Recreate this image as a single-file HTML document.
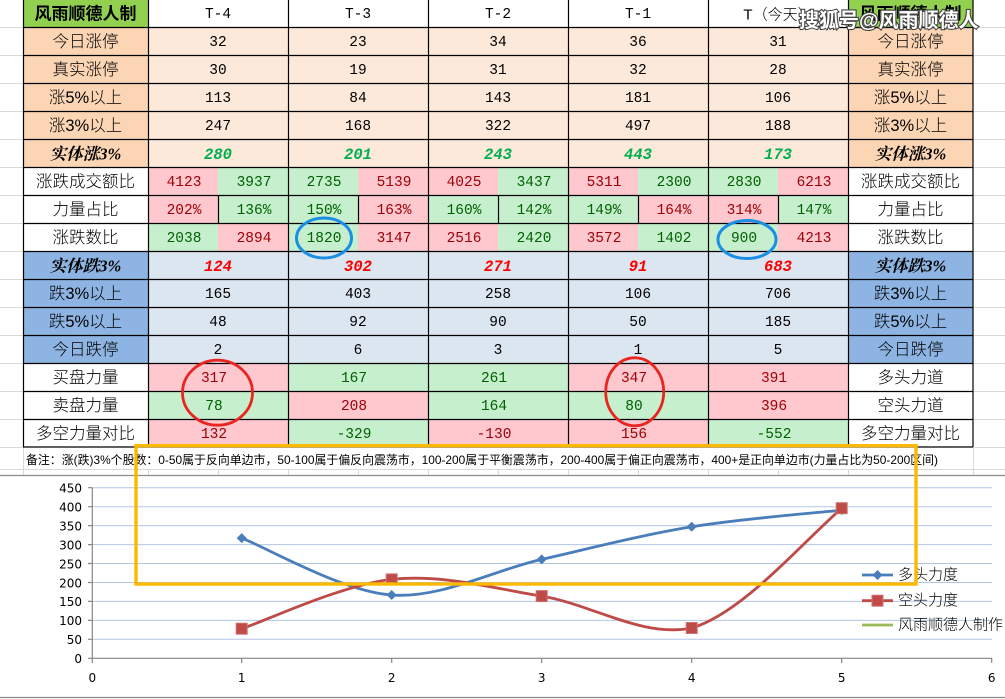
<!DOCTYPE html>
<html><head><meta charset="utf-8">
<style>
html,body{margin:0;padding:0;background:#fff;}
svg{display:block;}
.l{font-family:"Liberation Sans","Noto Sans CJK SC",sans-serif;font-size:16.5px;font-weight:300;fill:#000;}
.lb{font-family:"Liberation Serif","Noto Serif CJK SC",serif;font-size:16.5px;font-weight:bold;font-style:italic;fill:#000;}
.n{font-family:"Liberation Mono",monospace;font-size:14.5px;fill:#000;}
.r{fill:#9c0006;}
.g{fill:#006100;}
.bg{font-family:"Liberation Mono",monospace;font-size:15.5px;font-weight:bold;font-style:italic;fill:#00b050;}
.br{font-family:"Liberation Mono",monospace;font-size:15.5px;font-weight:bold;font-style:italic;fill:#ff0000;}
.ax{font-family:"DejaVu Sans",sans-serif;font-size:12px;fill:#000;}
.lg{font-family:"Liberation Sans","Noto Sans CJK SC",sans-serif;font-size:15px;font-weight:300;fill:#000;}
.fn{font-family:"Liberation Sans","Noto Sans CJK SC",sans-serif;font-size:12px;fill:#000;}
text{dominant-baseline:central;}
</style></head>
<body>
<svg width="1005" height="699" viewBox="0 0 1005 699" xmlns="http://www.w3.org/2000/svg">
<rect x="0" y="0" width="1005" height="699" fill="#fff"/>

<g stroke="#d9d9d9" stroke-width="1">
<path d="M0 27.5H23M0 55.5H23M0 83.5H23M0 111.5H23M0 139.5H23M0 167.5H23M0 195.5H23M0 223.5H23M0 251.5H23M0 279.5H23M0 307.5H23M0 335.5H23M0 363.5H23M0 391.5H23M0 419.5H23M0 447.5H23M0 469.5H1005"/>
<path d="M973 27.5H1005M973 55.5H1005M973 83.5H1005M973 111.5H1005M973 139.5H1005M973 167.5H1005M973 195.5H1005M973 223.5H1005M973 251.5H1005M973 279.5H1005M973 307.5H1005M973 335.5H1005M973 363.5H1005M973 391.5H1005M973 419.5H1005M973 447.5H1005"/>
<path d="M23.5 447V475M148.5 469V475M218.5 469V475M288.5 469V475M358.5 469V475M428.5 469V475M498.5 469V475M568.5 469V475M638.5 469V475M708.5 469V475M778.5 469V475M848.5 469V475M973.5 447V475"/>
</g>

<rect x="23" y="0" width="125" height="27" fill="#92d050"/>
<rect x="848" y="0" width="125" height="27" fill="#92d050"/>
<rect x="23" y="27" width="125" height="140" fill="#fcd5b4"/>
<rect x="848" y="27" width="125" height="140" fill="#fcd5b4"/>
<rect x="148" y="27" width="700" height="140" fill="#fde9d9"/>
<rect x="23" y="251" width="125" height="112" fill="#8db4e2"/>
<rect x="848" y="251" width="125" height="112" fill="#8db4e2"/>
<rect x="148" y="251" width="700" height="112" fill="#dce6f1"/>

<g>
<rect x="148" y="167" width="70" height="28" fill="#ffc7ce"/><rect x="218" y="167" width="70" height="28" fill="#c6efce"/>
<rect x="288" y="167" width="70" height="28" fill="#c6efce"/><rect x="358" y="167" width="70" height="28" fill="#ffc7ce"/>
<rect x="428" y="167" width="70" height="28" fill="#ffc7ce"/><rect x="498" y="167" width="70" height="28" fill="#c6efce"/>
<rect x="568" y="167" width="70" height="28" fill="#ffc7ce"/><rect x="638" y="167" width="70" height="28" fill="#c6efce"/>
<rect x="708" y="167" width="70" height="28" fill="#c6efce"/><rect x="778" y="167" width="70" height="28" fill="#ffc7ce"/>
<rect x="148" y="195" width="70" height="28" fill="#ffc7ce"/><rect x="218" y="195" width="70" height="28" fill="#c6efce"/>
<rect x="288" y="195" width="70" height="28" fill="#c6efce"/><rect x="358" y="195" width="70" height="28" fill="#ffc7ce"/>
<rect x="428" y="195" width="70" height="28" fill="#c6efce"/><rect x="498" y="195" width="70" height="28" fill="#c6efce"/>
<rect x="568" y="195" width="70" height="28" fill="#c6efce"/><rect x="638" y="195" width="70" height="28" fill="#ffc7ce"/>
<rect x="708" y="195" width="70" height="28" fill="#ffc7ce"/><rect x="778" y="195" width="70" height="28" fill="#c6efce"/>
<rect x="148" y="223" width="70" height="28" fill="#c6efce"/><rect x="218" y="223" width="70" height="28" fill="#ffc7ce"/>
<rect x="288" y="223" width="70" height="28" fill="#c6efce"/><rect x="358" y="223" width="70" height="28" fill="#ffc7ce"/>
<rect x="428" y="223" width="70" height="28" fill="#ffc7ce"/><rect x="498" y="223" width="70" height="28" fill="#c6efce"/>
<rect x="568" y="223" width="70" height="28" fill="#ffc7ce"/><rect x="638" y="223" width="70" height="28" fill="#c6efce"/>
<rect x="708" y="223" width="70" height="28" fill="#c6efce"/><rect x="778" y="223" width="70" height="28" fill="#ffc7ce"/>
<rect x="148" y="363" width="140" height="28" fill="#ffc7ce"/><rect x="288" y="363" width="140" height="28" fill="#c6efce"/>
<rect x="428" y="363" width="140" height="28" fill="#c6efce"/><rect x="568" y="363" width="140" height="28" fill="#ffc7ce"/>
<rect x="708" y="363" width="140" height="28" fill="#ffc7ce"/>
<rect x="148" y="391" width="140" height="28" fill="#c6efce"/><rect x="288" y="391" width="140" height="28" fill="#ffc7ce"/>
<rect x="428" y="391" width="140" height="28" fill="#c6efce"/><rect x="568" y="391" width="140" height="28" fill="#c6efce"/>
<rect x="708" y="391" width="140" height="28" fill="#ffc7ce"/>
<rect x="148" y="419" width="140" height="28" fill="#ffc7ce"/><rect x="288" y="419" width="140" height="28" fill="#c6efce"/>
<rect x="428" y="419" width="140" height="28" fill="#ffc7ce"/><rect x="568" y="419" width="140" height="28" fill="#ffc7ce"/>
<rect x="708" y="419" width="140" height="28" fill="#c6efce"/>
</g>

<g stroke="#000" stroke-width="1.2" fill="none">
<path d="M23 27.5H973M23 55.5H973M23 83.5H973M23 111.5H973M23 139.5H973M23 167.5H973M23 195.5H973M23 223.5H973M23 251.5H973M23 279.5H973M23 307.5H973M23 335.5H973M23 363.5H973M23 391.5H973M23 419.5H973M23 447H973"/>
<path d="M23.5 0V447M148.5 0V447M288.5 0V447M428.5 0V447M568.5 0V447M708.5 0V447M848.5 0V447M973 0V447"/>
<path d="M218.5 195V223M358.5 195V223M498.5 195V223M638.5 195V223M778.5 195V223"/>
</g>

<text x="85.5" y="14" text-anchor="middle" class="l" style="font-weight:bold;font-size:17px">风雨顺德人制</text>
<text x="218" y="15" text-anchor="middle" class="n">T-4</text>
<text x="358" y="15" text-anchor="middle" class="n">T-3</text>
<text x="498" y="15" text-anchor="middle" class="n">T-2</text>
<text x="638" y="15" text-anchor="middle" class="n">T-1</text>
<text x="778" y="15" text-anchor="middle" class="l" style="font-size:15px">T（今天）</text>
<text x="910.5" y="14" text-anchor="middle" class="l" style="font-weight:bold;font-size:17px">风雨顺德人制</text>

<g class="l" text-anchor="middle">
<text x="85.5" y="42">今日涨停</text>
<text x="85.5" y="70">真实涨停</text>
<text x="85.5" y="98">涨5%以上</text>
<text x="85.5" y="126">涨3%以上</text>
<text x="85.5" y="182">涨跌成交额比</text>
<text x="85.5" y="210">力量占比</text>
<text x="85.5" y="238">涨跌数比</text>
<text x="85.5" y="294">跌3%以上</text>
<text x="85.5" y="322">跌5%以上</text>
<text x="85.5" y="350">今日跌停</text>
<text x="85.5" y="378">买盘力量</text>
<text x="85.5" y="406">卖盘力量</text>
<text x="85.5" y="434">多空力量对比</text>
</g>
<text x="85.5" y="154" text-anchor="middle" class="lb">实体涨3%</text>
<text x="85.5" y="266" text-anchor="middle" class="lb">实体跌3%</text>

<g class="l" text-anchor="middle">
<text x="910.5" y="42">今日涨停</text>
<text x="910.5" y="70">真实涨停</text>
<text x="910.5" y="98">涨5%以上</text>
<text x="910.5" y="126">涨3%以上</text>
<text x="910.5" y="182">涨跌成交额比</text>
<text x="910.5" y="210">力量占比</text>
<text x="910.5" y="238">涨跌数比</text>
<text x="910.5" y="294">跌3%以上</text>
<text x="910.5" y="322">跌5%以上</text>
<text x="910.5" y="350">今日跌停</text>
<text x="910.5" y="378">多头力道</text>
<text x="910.5" y="406">空头力道</text>
<text x="910.5" y="434">多空力量对比</text>
</g>
<text x="910.5" y="154" text-anchor="middle" class="lb">实体涨3%</text>
<text x="910.5" y="266" text-anchor="middle" class="lb">实体跌3%</text>

<g class="n" text-anchor="middle">
<text x="218" y="43">32</text><text x="358" y="43">23</text><text x="498" y="43">34</text><text x="638" y="43">36</text><text x="778" y="43">31</text>
<text x="218" y="71">30</text><text x="358" y="71">19</text><text x="498" y="71">31</text><text x="638" y="71">32</text><text x="778" y="71">28</text>
<text x="218" y="99">113</text><text x="358" y="99">84</text><text x="498" y="99">143</text><text x="638" y="99">181</text><text x="778" y="99">106</text>
<text x="218" y="127">247</text><text x="358" y="127">168</text><text x="498" y="127">322</text><text x="638" y="127">497</text><text x="778" y="127">188</text>
<text x="218" y="295">165</text><text x="358" y="295">403</text><text x="498" y="295">258</text><text x="638" y="295">106</text><text x="778" y="295">706</text>
<text x="218" y="323">48</text><text x="358" y="323">92</text><text x="498" y="323">90</text><text x="638" y="323">50</text><text x="778" y="323">185</text>
<text x="218" y="351">2</text><text x="358" y="351">6</text><text x="498" y="351">3</text><text x="638" y="351">1</text><text x="778" y="351">5</text>
</g>
<g text-anchor="middle">
<text class="bg" x="218" y="155">280</text><text class="bg" x="358" y="155">201</text><text class="bg" x="498" y="155">243</text><text class="bg" x="638" y="155">443</text><text class="bg" x="778" y="155">173</text>
<text class="br" x="218" y="267">124</text><text class="br" x="358" y="267">302</text><text class="br" x="498" y="267">271</text><text class="br" x="638" y="267">91</text><text class="br" x="778" y="267">683</text>
</g>

<g class="n" text-anchor="middle">
<text class="n r" x="184" y="183">4123</text><text class="n g" x="254" y="183">3937</text>
<text class="n g" x="324" y="183">2735</text><text class="n r" x="394" y="183">5139</text>
<text class="n r" x="464" y="183">4025</text><text class="n g" x="534" y="183">3437</text>
<text class="n r" x="604" y="183">5311</text><text class="n g" x="674" y="183">2300</text>
<text class="n g" x="744" y="183">2830</text><text class="n r" x="814" y="183">6213</text>

<text class="n r" x="184" y="211">202%</text><text class="n g" x="254" y="211">136%</text>
<text class="n g" x="324" y="211">150%</text><text class="n r" x="394" y="211">163%</text>
<text class="n g" x="464" y="211">160%</text><text class="n g" x="534" y="211">142%</text>
<text class="n g" x="604" y="211">149%</text><text class="n r" x="674" y="211">164%</text>
<text class="n r" x="744" y="211">314%</text><text class="n g" x="814" y="211">147%</text>

<text class="n g" x="184" y="239">2038</text><text class="n r" x="254" y="239">2894</text>
<text class="n g" x="324" y="239">1820</text><text class="n r" x="394" y="239">3147</text>
<text class="n r" x="464" y="239">2516</text><text class="n g" x="534" y="239">2420</text>
<text class="n r" x="604" y="239">3572</text><text class="n g" x="674" y="239">1402</text>
<text class="n g" x="744" y="239">900</text><text class="n r" x="814" y="239">4213</text>

<text class="n r" x="214" y="379">317</text><text class="n g" x="354" y="379">167</text><text class="n g" x="494" y="379">261</text><text class="n r" x="634" y="379">347</text><text class="n r" x="774" y="379">391</text>
<text class="n g" x="214" y="407">78</text><text class="n r" x="354" y="407">208</text><text class="n g" x="494" y="407">164</text><text class="n g" x="634" y="407">80</text><text class="n r" x="774" y="407">396</text>
<text class="n r" x="214" y="435">132</text><text class="n g" x="354" y="435">-329</text><text class="n r" x="494" y="435">-130</text><text class="n r" x="634" y="435">156</text><text class="n g" x="774" y="435">-552</text>
</g>

<text class="fn" x="26" y="460" textLength="912" lengthAdjust="spacingAndGlyphs">备注：涨(跌)3%个股数：0-50属于反向单边市，50-100属于偏反向震荡市，100-200属于平衡震荡市，200-400属于偏正向震荡市，400+是正向单边市(力量占比为50-200区间)</text>

<path d="M0 475.5H1005M0 697.5H1005" stroke="#8c8c8c" stroke-width="1.2"/>

<g stroke="#b3c6e7" stroke-width="1">
<path d="M92 487.7H992M92 506.7H992M92 525.6H992M92 544.6H992M92 563.5H992M92 582.5H992M92 601.4H992M92 620.4H992M92 639.3H992"/>
</g>
<g stroke="#868686" stroke-width="1.2">
<path d="M92.3 487.7V658.3M92.3 658.3H992"/>
<path d="M88 487.7H92.3M88 506.7H92.3M88 525.6H92.3M88 544.6H92.3M88 563.5H92.3M88 582.5H92.3M88 601.4H92.3M88 620.4H92.3M88 639.3H92.3M88 658.3H92.3"/>
<path d="M92.3 658V663M241.7 658V663M391.7 658V663M541.7 658V663M691.7 658V663M841.7 658V663M991.7 658V663"/>
</g>
<g class="ax" text-anchor="end">
<text x="82" y="488.5">450</text><text x="82" y="507.5">400</text><text x="82" y="526.5">350</text><text x="82" y="545.5">300</text><text x="82" y="564.5">250</text><text x="82" y="583.5">200</text><text x="82" y="602">150</text><text x="82" y="621">100</text><text x="82" y="640">50</text><text x="82" y="659">0</text>
</g>
<g class="ax" text-anchor="middle">
<text x="92.3" y="678">0</text><text x="241.7" y="678">1</text><text x="391.7" y="678">2</text><text x="541.7" y="678">3</text><text x="691.7" y="678">4</text><text x="841.7" y="678">5</text><text x="991.7" y="678">6</text>
</g>

<path d="M241.7 538.1C266.7 547.6 341.7 591.45 391.7 595C441.7 598.55 491.7 570.77 541.7 559.4C591.7 548.03 641.7 535.02 691.7 526.8C741.7 518.58 816.7 512.88 841.7 510.1" fill="none" stroke="#4a7ebb" stroke-width="2.8" stroke-linecap="round"/>
<path d="M241.7 628.7C266.7 620.48 341.7 584.83 391.7 579.4C441.7 573.97 491.7 588 541.7 596.1C591.7 604.2 641.7 638 691.7 628C741.7 613.35 800 545 841.7 508.2" fill="none" stroke="#be4b48" stroke-width="2.8" stroke-linecap="round"/>
<g fill="#4a7ebb">
<path d="M241.7 533.1L246.7 538.1L241.7 543.1L236.7 538.1Z"/>
<path d="M391.7 590L396.7 595L391.7 600L386.7 595Z"/>
<path d="M541.7 554.4L546.7 559.4L541.7 564.4L536.7 559.4Z"/>
<path d="M691.7 521.8L696.7 526.8L691.7 531.8L686.7 526.8Z"/>
<path d="M841.7 505.1L846.7 510.1L841.7 515.1L836.7 510.1Z"/>
</g>
<g fill="#be4b48" stroke="#d07370" stroke-width="1">
<rect x="236.2" y="623.2" width="11" height="11"/>
<rect x="386.2" y="573.9" width="11" height="11"/>
<rect x="536.2" y="590.6" width="11" height="11"/>
<rect x="686.2" y="622.5" width="11" height="11"/>
<rect x="836.2" y="502.7" width="11" height="11"/>
</g>

<path d="M862 575H893" stroke="#4a7ebb" stroke-width="2.8"/>
<path d="M877.5 570L882.5 575L877.5 580L872.5 575Z" fill="#4a7ebb"/>
<path d="M862 600.7H893" stroke="#be4b48" stroke-width="2.8"/>
<rect x="872" y="595.2" width="11" height="11" fill="#be4b48" stroke="#d07370" stroke-width="1"/>
<path d="M862 625H893" stroke="#9bbb59" stroke-width="2.8"/>
<text class="lg" x="898" y="575">多头力度</text>
<text class="lg" x="898" y="600.7">空头力度</text>
<text class="lg" x="898" y="625">风雨顺德人制作</text>

<ellipse cx="324" cy="238" rx="27.5" ry="20" fill="none" stroke="#1a8fe3" stroke-width="3"/>
<ellipse cx="747" cy="239.5" rx="29" ry="19" fill="none" stroke="#1a8fe3" stroke-width="3"/>
<ellipse cx="217.5" cy="392.7" rx="35" ry="32.5" fill="none" stroke="#e8251f" stroke-width="2.8"/>
<ellipse cx="634.7" cy="391.8" rx="29" ry="34" fill="none" stroke="#e8251f" stroke-width="2.8"/>
<rect x="136" y="445.7" width="780" height="138.3" fill="none" stroke="#fbb900" stroke-width="3.4"/>

<text x="799" y="21" font-family="Liberation Sans,Noto Sans CJK SC,sans-serif" font-size="20" font-weight="bold" fill="#fff" stroke="#444" stroke-width="2.2" paint-order="stroke" style="paint-order:stroke">搜狐号@风雨顺德人</text>
</svg>
</body></html>
